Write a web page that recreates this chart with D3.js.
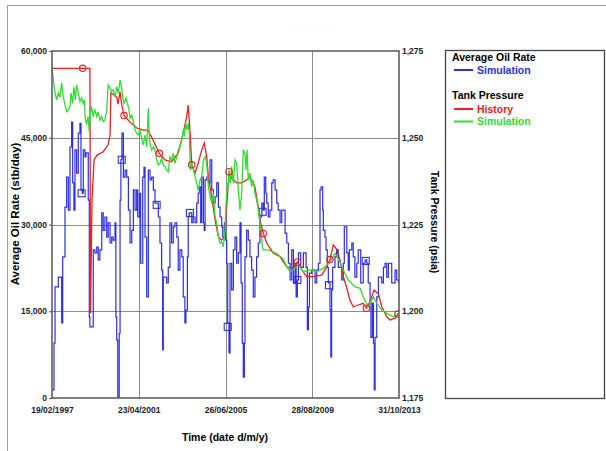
<!DOCTYPE html>
<html>
<head>
<meta charset="utf-8">
<script src="https://cdn.jsdelivr.net/npm/d3@7"></script>
<style>
  body { margin: 0; background: #fff; }
  text { font-family: Arial, "Liberation Sans", sans-serif; }
</style>
</head>
<body>
<svg id="chart" width="606" height="451"></svg>
<script>
// Average oil rate, simulation (decimal year, stb/day)
const oilYears = [1997.13,1997.23,1997.28,1997.44,1997.60,1997.65,1997.76,1997.84,1997.92,1998.00,
  1998.08,1998.13,1998.19,1998.24,1998.32,1998.40,1998.48,1998.53,1998.59,1998.64,
  1998.72,1998.77,1998.88,1998.93,1998.96,1999.12,1999.20,1999.29,1999.36,1999.44,
  1999.53,1999.60,1999.68,1999.77,1999.84,1999.93,2000.01,2000.08,2000.17,2000.21,
  2000.25,2000.30,2000.37,2000.41,2000.45,2000.50,2000.57,2000.65,2000.73,2000.81,
  2000.89,2000.97,2001.05,2001.13,2001.21,2001.26,2001.34,2001.40,2001.50,2001.56,
  2001.61,2001.69,2001.77,2001.85,2001.93,2002.01,2002.09,2002.17,2002.25,2002.33,
  2002.41,2002.46,2002.49,2002.57,2002.65,2002.73,2002.81,2002.89,2002.97,2003.05,
  2003.14,2003.21,2003.29,2003.38,2003.45,2003.53,2003.58,2003.65,2003.69,2003.74,
  2003.86,2003.93,2004.02,2004.10,2004.17,2004.22,2004.29,2004.34,2004.42,2004.46,
  2004.50,2004.58,2004.66,2004.74,2004.82,2004.90,2004.98,2005.06,2005.14,2005.22,
  2005.30,2005.35,2005.43,2005.49,2005.54,2005.59,2005.65,2005.70,2005.78,2005.86,
  2005.94,2006.02,2006.10,2006.18,2006.23,2006.29,2006.34,2006.39,2006.42,2006.50,
  2006.58,2006.66,2006.74,2006.82,2006.90,2006.98,2007.06,2007.14,2007.23,2007.30,
  2007.35,2007.42,2007.47,2007.54,2007.62,2007.71,2007.78,2007.87,2007.95,2008.02,
  2008.11,2008.19,2008.35,2008.43,2008.51,2008.59,2008.67,2008.75,2008.83,2008.88,
  2008.94,2008.99,2009.10,2009.23,2009.36,2009.42,2009.47,2009.52,2009.63,2009.79,
  2009.87,2009.95,2010.03,2010.08,2010.16,2010.19,2010.27,2010.32,2010.38,2010.43,
  2010.51,2010.55,2010.59,2010.64,2010.75,2010.83,2010.91,2011.08,2011.15,2011.20,
  2011.32,2011.39,2011.44,2011.56,2011.63,2011.71,2011.80,2011.87,2011.99,2012.11,
  2012.20,2012.28,2012.35,2012.44,2012.48,2012.55,2012.60,2012.64,2012.68,2012.76,
  2012.84,2013.00,2013.08,2013.16,2013.24,2013.32,2013.48,2013.64,2013.72,2013.80];
const oilRate = [1400,9500,19200,20900,13000,24400,33000,38200,32500,43400,
  47700,37200,32500,42900,38900,45800,47500,36000,35400,42900,
  41700,42400,34200,14000,12300,25600,25100,26100,23900,25600,
  32000,29000,31300,27800,30300,26800,27800,27300,30300,14000,
  10000,200,11200,34200,41200,45800,38200,39400,38200,32500,
  26800,29000,36000,32500,36000,31300,35400,23300,38200,39900,
  27800,17500,39400,37700,38200,36000,33700,33700,31300,26800,
  22100,8300,20900,20900,19900,22600,30300,26800,29600,30300,
  27800,22100,25600,24400,17500,13000,15200,24400,31300,32000,
  30300,31300,30300,33700,35400,36500,30300,38200,30300,29000,
  37700,38200,37200,41200,36000,33700,34800,37200,33000,31300,
  29600,27800,30300,27300,23300,13000,7800,23300,18700,25600,
  27800,23300,25100,30300,19900,9500,3600,9500,24400,29000,
  27300,24400,22100,17500,20900,24400,26800,31300,33700,32500,
  38200,35400,33700,31300,32500,37200,37700,36000,33700,32500,
  30300,32500,28500,26800,23300,20400,25600,19900,23300,17500,
  20400,25100,22600,25100,22600,11800,15700,21600,22100,19900,
  22100,23300,36000,36500,32500,29000,27800,25600,22600,19900,
  15200,7100,18700,22600,24400,25600,22600,20400,23300,29600,
  25100,22100,25600,26800,24400,20900,23300,25600,19900,23300,
  23900,23300,19900,16400,10500,16400,9500,1400,10500,17500,
  20900,19900,22600,23300,20900,23300,19900,22100,20400,19900];
const oilMarkYears = [1998.56,2000.49,2002.17,2003.77,2005.59,2007.27,2008.94,2010.46,2012.23];
const oilMarkRate = [35400,41200,33400,32000,12300,32200,20400,19500,23700];

// Tank pressure, history (decimal year, psia)
const histYears = [1997.13,1998.61,1998.96,1998.99,1999.06,1999.16,1999.30,1999.59,1999.83,1999.93,
  1999.97,2000.12,2000.25,2000.31,2000.41,2000.50,2000.60,2000.89,2001.21,2001.53,
  2001.75,2001.99,2002.30,2002.57,2002.89,2003.21,2003.45,2003.62,2003.69,2003.78,
  2003.86,2004.02,2004.17,2004.34,2004.46,2004.58,2004.66,2004.82,2004.98,2005.14,
  2005.30,2005.46,2005.51,2005.65,2005.78,2006.02,2006.26,2006.50,2006.66,2006.90,
  2007.06,2007.14,2007.30,2007.47,2007.78,2008.11,2008.43,2008.75,2008.94,2009.15,
  2009.39,2009.71,2010.11,2010.35,2010.51,2010.67,2010.83,2010.99,2011.15,2011.32,
  2011.47,2011.63,2011.87,2012.11,2012.26,2012.44,2012.63,2012.84,2013.00,2013.24,
  2013.40,2013.64,2013.80];
const histPress = [1270.0,1270.0,1270.0,1199.5,1232.1,1243.6,1245.0,1245.9,1247.9,1250.8,
  1262.9,1262.3,1261.7,1259.7,1263.2,1259.2,1256.4,1254.5,1252.8,1252.2,
  1252.2,1249.4,1245.5,1243.6,1243.1,1245.6,1251.4,1256.1,1259.4,1251.4,
  1242.2,1239.8,1242.7,1246.5,1248.5,1244.5,1238.7,1232.9,1226.3,1221.4,
  1220.5,1221.4,1227.2,1240.2,1238.4,1237.0,1237.0,1237.8,1238.7,1235.8,
  1230.0,1226.3,1222.4,1219.6,1216.8,1215.7,1212.8,1212.4,1214.2,1211.9,
  1210.0,1210.0,1210.4,1212.8,1214.9,1219.1,1217.9,1214.8,1210.0,1206.7,
  1203.2,1201.3,1201.8,1202.3,1200.9,1202.8,1206.1,1205.0,1201.3,1198.4,
  1197.5,1198.0,1199.2];
const histMarkYears = [1998.61,2000.60,2002.30,2003.86,2005.65,2007.30,2008.94,2010.51,2012.26,2013.78];
const histMarkPress = [1270.0,1256.4,1245.5,1242.2,1240.2,1222.4,1214.2,1214.9,1200.9,1199.2];

// Tank pressure, simulation (decimal year, psia)
const simYears = [1997.13,1997.20,1997.28,1997.36,1997.44,1997.52,1997.60,1997.68,1997.76,1997.84,
  1997.92,1998.00,1998.05,1998.13,1998.19,1998.26,1998.32,1998.40,1998.48,1998.56,
  1998.64,1998.69,1998.74,1998.80,1998.87,1998.93,1998.99,1999.04,1999.12,1999.20,
  1999.29,1999.36,1999.44,1999.53,1999.60,1999.68,1999.77,1999.84,1999.93,2000.01,
  2000.08,2000.17,2000.25,2000.32,2000.41,2000.49,2000.54,2000.60,2000.70,2000.76,
  2000.83,2000.89,2000.97,2001.05,2001.13,2001.21,2001.29,2001.37,2001.45,2001.53,
  2001.61,2001.69,2001.77,2001.82,2001.85,2001.93,2002.01,2002.09,2002.17,2002.25,
  2002.33,2002.41,2002.49,2002.57,2002.65,2002.73,2002.81,2002.89,2002.97,2003.05,
  2003.14,2003.21,2003.29,2003.38,2003.45,2003.50,2003.57,2003.63,2003.69,2003.74,
  2003.79,2003.86,2003.93,2004.02,2004.10,2004.17,2004.26,2004.34,2004.42,2004.50,
  2004.58,2004.66,2004.74,2004.82,2004.90,2004.98,2005.06,2005.14,2005.22,2005.30,
  2005.38,2005.46,2005.51,2005.57,2005.62,2005.65,2005.71,2005.78,2005.86,2005.94,
  2006.02,2006.10,2006.18,2006.26,2006.34,2006.42,2006.47,2006.52,2006.58,2006.66,
  2006.74,2006.82,2006.90,2006.98,2007.06,2007.14,2007.23,2007.25,2007.30,2007.54,
  2007.71,2007.95,2008.11,2008.26,2008.43,2008.59,2008.83,2008.99,2009.23,2009.55,
  2009.87,2010.19,2010.51,2010.75,2010.91,2011.15,2011.39,2011.71,2011.96,2012.11,
  2012.35,2012.60,2012.76,2013.00,2013.24,2013.56,2013.80];
const simPress = [1270.5,1266.6,1262.9,1260.9,1262.9,1261.7,1265.8,1261.7,1259.4,1257.5,
  1258.0,1259.0,1262.9,1259.9,1264.7,1260.9,1265.2,1262.9,1260.4,1261.5,
  1259.9,1260.9,1255.1,1254.2,1256.1,1251.7,1257.1,1259.0,1256.1,1258.0,
  1256.1,1257.5,1255.1,1256.1,1254.6,1255.1,1258.0,1265.2,1264.3,1263.3,
  1263.8,1261.8,1264.7,1262.8,1266.6,1264.3,1261.4,1259.9,1261.4,1259.9,
  1258.5,1255.6,1256.6,1254.6,1252.2,1251.3,1250.8,1252.2,1249.8,1247.9,
  1250.8,1247.4,1258.5,1250.3,1248.4,1246.5,1247.4,1246.5,1243.6,1242.2,
  1242.6,1244.1,1242.2,1241.7,1240.7,1240.2,1244.5,1243.6,1245.5,1242.6,
  1244.5,1246.5,1247.4,1249.4,1252.2,1250.3,1254.2,1252.2,1254.2,1251.3,
  1240.7,1242.6,1241.2,1238.8,1236.9,1234.9,1237.8,1238.8,1243.6,1244.5,
  1242.6,1235.9,1233.0,1231.1,1234.0,1227.3,1225.3,1221.5,1219.6,1220.0,
  1218.6,1223.4,1231.1,1236.9,1235.9,1240.7,1236.9,1241.7,1236.9,1243.6,
  1242.6,1234.9,1229.2,1234.0,1246.5,1245.5,1240.7,1246.5,1237.8,1239.8,
  1235.9,1237.8,1234.0,1232.1,1229.2,1225.3,1221.5,1218.6,1217.7,1217.7,
  1217.2,1216.7,1215.7,1215.1,1212.8,1211.4,1212.4,1213.3,1211.4,1211.9,
  1211.4,1212.4,1214.2,1216.7,1215.1,1211.9,1209.0,1207.1,1206.6,1204.2,
  1201.3,1204.2,1202.3,1200.4,1199.4,1198.4,1199.4];

const xTickDates = ["1997-02-19", "2001-04-23", "2005-06-26", "2009-08-28", "2013-10-31"];
const oilTicks = [0, 15000, 30000, 45000, 60000];
const pressTicks = [1175, 1200, 1225, 1250, 1275];

function toDate(y) {
  const yr = Math.floor(y);
  const a = Date.UTC(yr, 0, 1), b = Date.UTC(yr + 1, 0, 1);
  return new Date(a + (y - yr) * (b - a));
}

const svg = d3.select("#chart");
const L = 52, T = 51, R = 399, B = 398;
const blue = "#2e2ee6", red = "#ee2020", green = "#30dd30";

const xDates = xTickDates.map(s => new Date(s + "T00:00:00Z"));
const x = d3.scaleUtc().domain([xDates[0], xDates[4]]).range([L, R]);
const yOil = d3.scaleLinear().domain([0, 60000]).range([B, T]);
const yP = d3.scaleLinear().domain([1175, 1275]).range([B, T]);

// outer frame and faint title
svg.append("rect").attr("x", 7.5).attr("y", 5.5).attr("width", 700).attr("height", 500)
  .attr("fill", "none").attr("stroke", "#a0a0a0");
svg.append("text").attr("x", 312).attr("y", 27).attr("text-anchor", "middle")
  .attr("fill", "#d8d8d8").attr("font-size", 7).text(". . .   . . .   . .     . .");

// grid
const grid = svg.append("g").attr("stroke", "#8c8c8c").attr("stroke-width", 1);
grid.selectAll("line.h").data(oilTicks.slice(1, 4)).enter().append("line")
  .attr("x1", L).attr("x2", R).attr("y1", d => Math.round(yOil(d)) + 0.5).attr("y2", d => Math.round(yOil(d)) + 0.5);
grid.selectAll("line.v").data(xDates.slice(1, 4)).enter().append("line")
  .attr("y1", T).attr("y2", B).attr("x1", d => Math.round(x(d)) + 0.5).attr("x2", d => Math.round(x(d)) + 0.5);

svg.append("clipPath").attr("id", "clip").append("rect")
  .attr("x", L).attr("y", T).attr("width", R - L).attr("height", B - T);
const plot = svg.append("g").attr("clip-path", "url(#clip)");

// oil rate (stepped)
const oilData = oilYears.map((d, i) => [toDate(d), oilRate[i]]);
plot.append("path").datum(oilData)
  .attr("fill", "none").attr("stroke", blue).attr("stroke-width", 1.2)
  .attr("d", d3.line().x(d => x(d[0])).y(d => yOil(d[1])).curve(d3.curveStepAfter));
plot.selectAll("rect.sq").data(oilMarkYears).enter().append("rect")
  .attr("x", (d, i) => x(toDate(d)) - 3.5).attr("y", (d, i) => yOil(oilMarkRate[i]) - 3.5)
  .attr("width", 7).attr("height", 7)
  .attr("fill", "none").attr("stroke", blue).attr("stroke-width", 1.1);

// pressure history and simulation
const line = d3.line().x(d => x(d[0])).y(d => yP(d[1]));
plot.append("path").datum(histYears.map((d, i) => [toDate(d), histPress[i]]))
  .attr("fill", "none").attr("stroke", red).attr("stroke-width", 1.3).attr("d", line);
plot.append("path").datum(simYears.map((d, i) => [toDate(d), simPress[i]]))
  .attr("fill", "none").attr("stroke", green).attr("stroke-width", 1.3).attr("d", line);
plot.selectAll("circle.h").data(histMarkYears).enter().append("circle")
  .attr("cx", d => x(toDate(d))).attr("cy", (d, i) => yP(histMarkPress[i])).attr("r", 3.2)
  .attr("fill", "none").attr("stroke", red).attr("stroke-width", 1.1);

// frame
svg.append("rect").attr("x", L).attr("y", T).attr("width", R - L).attr("height", B - T)
  .attr("fill", "none").attr("stroke", "#555").attr("stroke-width", 1.5);

// axes
const tickFont = g => g.selectAll("text").attr("font-size", 8.5).attr("font-weight", "bold").attr("fill", "#222");
svg.append("g").attr("transform", `translate(${L},0)`)
  .call(d3.axisLeft(yOil).tickValues(oilTicks).tickFormat(d3.format(",")).tickSize(3).tickPadding(2))
  .call(g => g.select(".domain").remove())
  .call(g => g.selectAll("line").attr("stroke", "#555"))
  .call(tickFont);
svg.append("g").attr("transform", `translate(${R},0)`)
  .call(d3.axisRight(yP).tickValues(pressTicks).tickFormat(d3.format(",")).tickSize(0).tickPadding(3))
  .call(g => g.select(".domain").remove())
  .call(tickFont);
svg.append("g").attr("transform", `translate(0,${B})`)
  .call(d3.axisBottom(x).tickValues(xDates).tickFormat(d3.utcFormat("%d/%m/%Y")).tickSize(0).tickPadding(9))
  .call(g => g.select(".domain").remove())
  .call(tickFont);

// axis titles
svg.append("text").attr("transform", "translate(19,214) rotate(-90)").attr("text-anchor", "middle")
  .attr("font-size", 11.5).attr("font-weight", "bold").text("Average Oil Rate (stb/day)");
svg.append("text").attr("transform", "translate(431,222) rotate(90)").attr("text-anchor", "middle")
  .attr("font-size", 10.5).attr("font-weight", "bold").text("Tank Pressure (psia)");
svg.append("text").attr("x", 225).attr("y", 441).attr("text-anchor", "middle")
  .attr("font-size", 10.5).attr("font-weight", "bold").text("Time (date d/m/y)");

// legend
svg.append("rect").attr("x", 445.5).attr("y", 50.5).attr("width", 159).attr("height", 348)
  .attr("fill", "none").attr("stroke", "#444").attr("stroke-width", 1.3);
const legendGroups = [["Average Oil Rate", 61], ["Tank Pressure", 99]];
const legendItems = [["Simulation", blue, 70], ["History", red, 109], ["Simulation", green, 121.5]];
svg.selectAll("text.lg").data(legendGroups).enter().append("text")
  .attr("x", 452).attr("y", d => d[1]).attr("font-size", 10.5).attr("font-weight", "bold").text(d => d[0]);
const items = svg.selectAll("g.li").data(legendItems).enter().append("g");
items.append("line").attr("x1", 454).attr("x2", 473).attr("y1", d => d[2]).attr("y2", d => d[2])
  .attr("stroke", d => d[1]).attr("stroke-width", 2);
items.append("text").attr("x", 477).attr("y", d => d[2] + 3.8).attr("font-size", 10.5)
  .attr("font-weight", "bold").attr("fill", d => d[1]).text(d => d[0]);
</script>
</body>
</html>
